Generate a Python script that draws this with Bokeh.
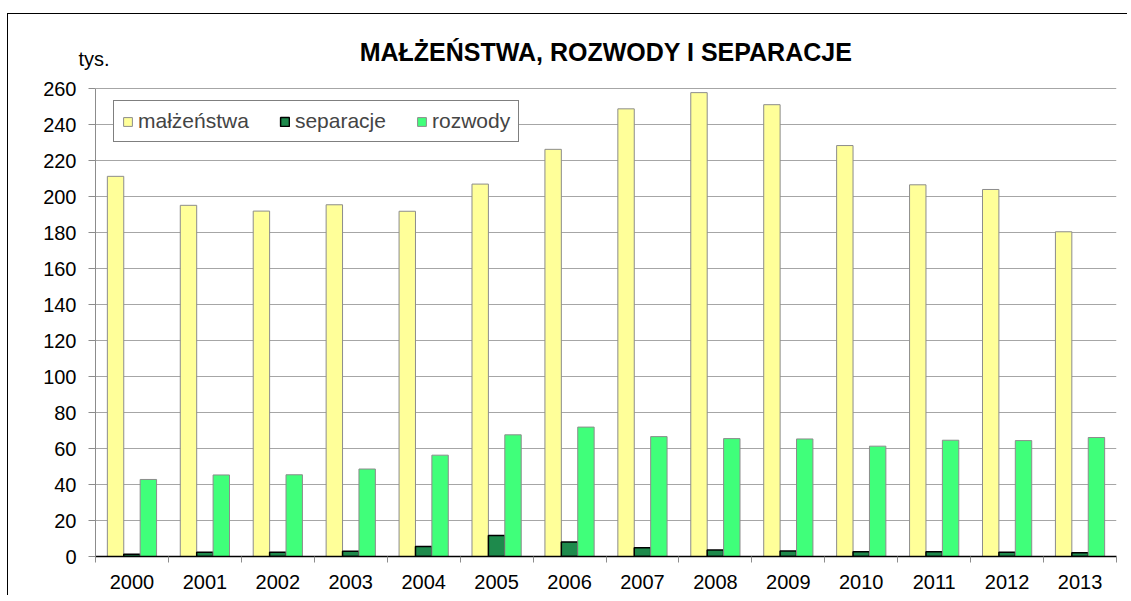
import numpy as np
from bokeh.plotting import figure
from bokeh.layouts import column, row
from bokeh.models import Range1d, FixedTicker, Label, Legend, LegendItem, ColumnDataSource, Spacer
from bokeh.transform import dodge
from bokeh.embed import file_html
from bokeh.resources import INLINE

years = [str(y) for y in range(2000, 2014)]
malzenstwa = [211.2, 195.1, 191.9, 195.4, 191.8, 206.9, 226.2, 248.7, 257.7, 251.0, 228.3, 206.5, 203.9, 180.4]
separacje = [1.3, 2.3, 2.4, 2.9, 5.6, 11.6, 8.0, 4.8, 3.6, 3.0, 2.6, 2.6, 2.4, 2.1]
rozwody = [42.8, 45.3, 45.4, 48.6, 56.3, 67.6, 71.9, 66.6, 65.5, 65.3, 61.3, 64.6, 64.4, 66.1]
y_ticks = list(range(0, 261, 20))
title_text = "MAŁŻEŃSTWA, ROZWODY I SEPARACJE"
unit_text = "tys."

FONT = "Liberation Sans"
n = len(years)
y_max = 260
px_per_unit = 1.8          # 20 units = 36 px
frame_h = 542              # frame extends up so the title above the 260 line is drawn inside it
centers = [i + 0.5 for i in range(n)]
src = ColumnDataSource(dict(x=centers, m=malzenstwa, s=separacje, r=rozwody))

p = figure(width=1120, height=frame_h + 40, output_backend="svg", toolbar_location=None,
           x_range=Range1d(0, n), y_range=Range1d(0, frame_h / px_per_unit),
           min_border_left=87, min_border_right=12, min_border_top=0, min_border_bottom=40)
p.styles = {"border-top": "1px solid #000", "border-left": "1px solid #000"}
p.outline_line_color = None
p.background_fill_color = "white"
p.xgrid.grid_line_color = None
p.ygrid.grid_line_color = "#A6A6A6"
p.ygrid.grid_line_width = 1

bw = 0.225
r1 = p.vbar(x=dodge("x", -bw, range=p.x_range), top="m", width=bw, source=src,
            fill_color="#FFFF99", line_color="#8C8C8C", line_width=1)
r2 = p.vbar(x=dodge("x", 0, range=p.x_range), top="s", width=bw, source=src,
            fill_color="#1E8A4C", line_color="#000000", line_width=1.5)
r3 = p.vbar(x=dodge("x", bw, range=p.x_range), top="r", width=bw, source=src,
            fill_color="#40FF7A", line_color="#8C8C8C", line_width=1)

# y axis
ya = p.yaxis[0]
ya.ticker = FixedTicker(ticks=y_ticks, minor_ticks=[])
ya.bounds = (0, y_max)
ya.axis_line_color = "#8C8C8C"
ya.major_tick_line_color = "#8C8C8C"
ya.major_tick_out = 7
ya.major_tick_in = 0
ya.major_label_standoff = 12
ya.major_label_text_font = FONT
ya.major_label_text_font_size = "20px"
ya.major_label_text_color = "black"

# x axis
xa = p.xaxis[0]
xa.ticker = FixedTicker(ticks=centers, minor_ticks=list(range(n + 1)))
xa.major_label_overrides = {c: y for c, y in zip(centers, years)}
xa.major_tick_line_color = None
xa.minor_tick_line_color = "#8C8C8C"
xa.minor_tick_out = 6
xa.minor_tick_in = 0
xa.axis_line_color = "black"
xa.axis_line_width = 1.5
xa.major_label_standoff = 12
xa.major_label_text_font = FONT
xa.major_label_text_font_size = "20px"
xa.major_label_text_color = "black"

p.add_layout(Label(x=n / 2, y=y_max, y_offset=37, text=title_text, text_align="center",
                   text_baseline="alphabetic", text_font=FONT, text_font_size="25px",
                   text_font_style="bold", text_color="black"))
# unit label sits left of the frame edge: place it in the left side panel
p.add_layout(Label(x=0, y=y_max, x_offset=-17, y_offset=30, text=unit_text, text_align="left",
                   text_baseline="alphabetic", text_font=FONT, text_font_size="20px",
                   text_color="black"), "left")

legend = Legend(items=[LegendItem(label="małżeństwa", renderers=[r1]),
                       LegendItem(label="separacje", renderers=[r2]),
                       LegendItem(label="rozwody", renderers=[r3])],
                orientation="horizontal", location=(18, 414),
                border_line_color="black", border_line_width=1, padding=8, spacing=30,
                label_standoff=5, glyph_width=11, glyph_height=11,
                label_text_font=FONT, label_text_font_size="21px", background_fill_alpha=1)
p.add_layout(legend, "center")

layout = column(Spacer(height=13), row(Spacer(width=7), p, spacing=0), spacing=0)
open("out.html", "w").write(file_html(layout, INLINE))
